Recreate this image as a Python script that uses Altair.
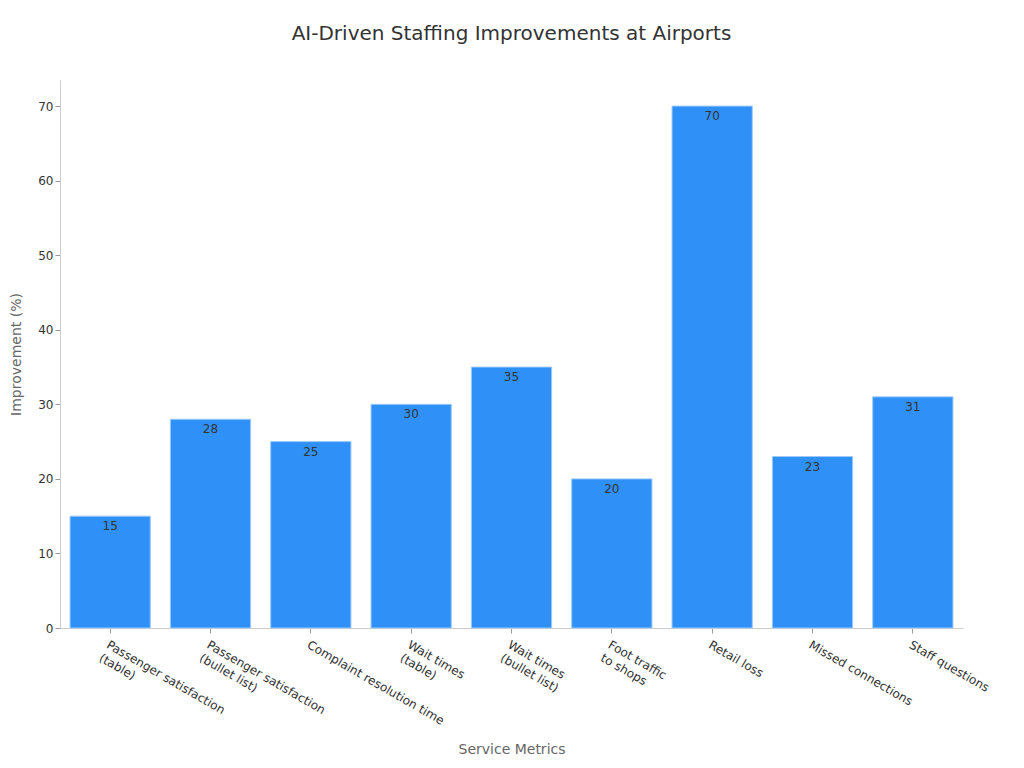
import altair as alt
import pandas as pd

categories = [
    "Passenger satisfaction\n(table)",
    "Passenger satisfaction\n(bullet list)",
    "Complaint resolution time",
    "Wait times\n(table)",
    "Wait times\n(bullet list)",
    "Foot traffic\nto shops",
    "Retail loss",
    "Missed connections",
    "Staff questions",
]
values = [15, 28, 25, 30, 35, 20, 70, 23, 31]

df = pd.DataFrame({"metric": categories, "value": values})

FONT = "DejaVu Sans"

x = alt.X(
    "metric:N",
    sort=categories,
    title="Service Metrics",
    scale=alt.Scale(paddingInner=0.2, paddingOuter=0.1),
    axis=alt.Axis(
        labelAngle=30,
        labelAlign="left",
        labelBaseline="top",
        labelExpr="split(datum.label, '\\n')",
        labelFontSize=12,
        labelColor="#333333",
        labelPadding=6,
        labelLineHeight=15,
        labelFont=FONT,
        tickColor="#999999",
        tickSize=5,
        domainColor="#cccccc",
        titleColor="#666666",
        titleFontSize=14,
        titleFontWeight="normal",
        titleFont=FONT,
        titlePadding=14,
        labelOverlap=False,
        labelLimit=400,
    ),
)

y = alt.Y(
    "value:Q",
    title="Improvement (%)",
    scale=alt.Scale(domain=[0, 73.5], nice=False),
    axis=alt.Axis(
        values=[0, 10, 20, 30, 40, 50, 60, 70],
        grid=False,
        labelFontSize=12,
        labelColor="#333333",
        labelFont=FONT,
        tickColor="#999999",
        tickSize=5,
        domainColor="#cccccc",
        titleColor="#666666",
        titleFontSize=14,
        titleFontWeight="normal",
        titleFont=FONT,
        titlePadding=14,
    ),
)

bars = alt.Chart(df).mark_bar(
    color="#2f91f7", stroke="#9ccaf9", strokeWidth=1
).encode(x=x, y=y)

labels = alt.Chart(df).mark_text(
    baseline="top", dy=5, fontSize=12, color="#333333", font=FONT
).encode(x=x, y=y, text="value:Q")

chart = (
    alt.layer(bars, labels)
    .properties(
        width=903,
        height=548,
        autosize=alt.AutoSizeParams(type="none"),
        padding={"left": 52, "top": 72, "right": 53, "bottom": 132},
        background="white",
        title=alt.TitleParams(
            "AI-Driven Staffing Improvements at Airports",
            fontSize=20,
            fontWeight="normal",
            color="#333333",
            font=FONT,
            offset=36,
            anchor="middle",
        ),
    )
    .configure_view(strokeWidth=0, stroke="transparent")
)

chart.save("out.html", embed_options={"renderer": "svg", "actions": False})
